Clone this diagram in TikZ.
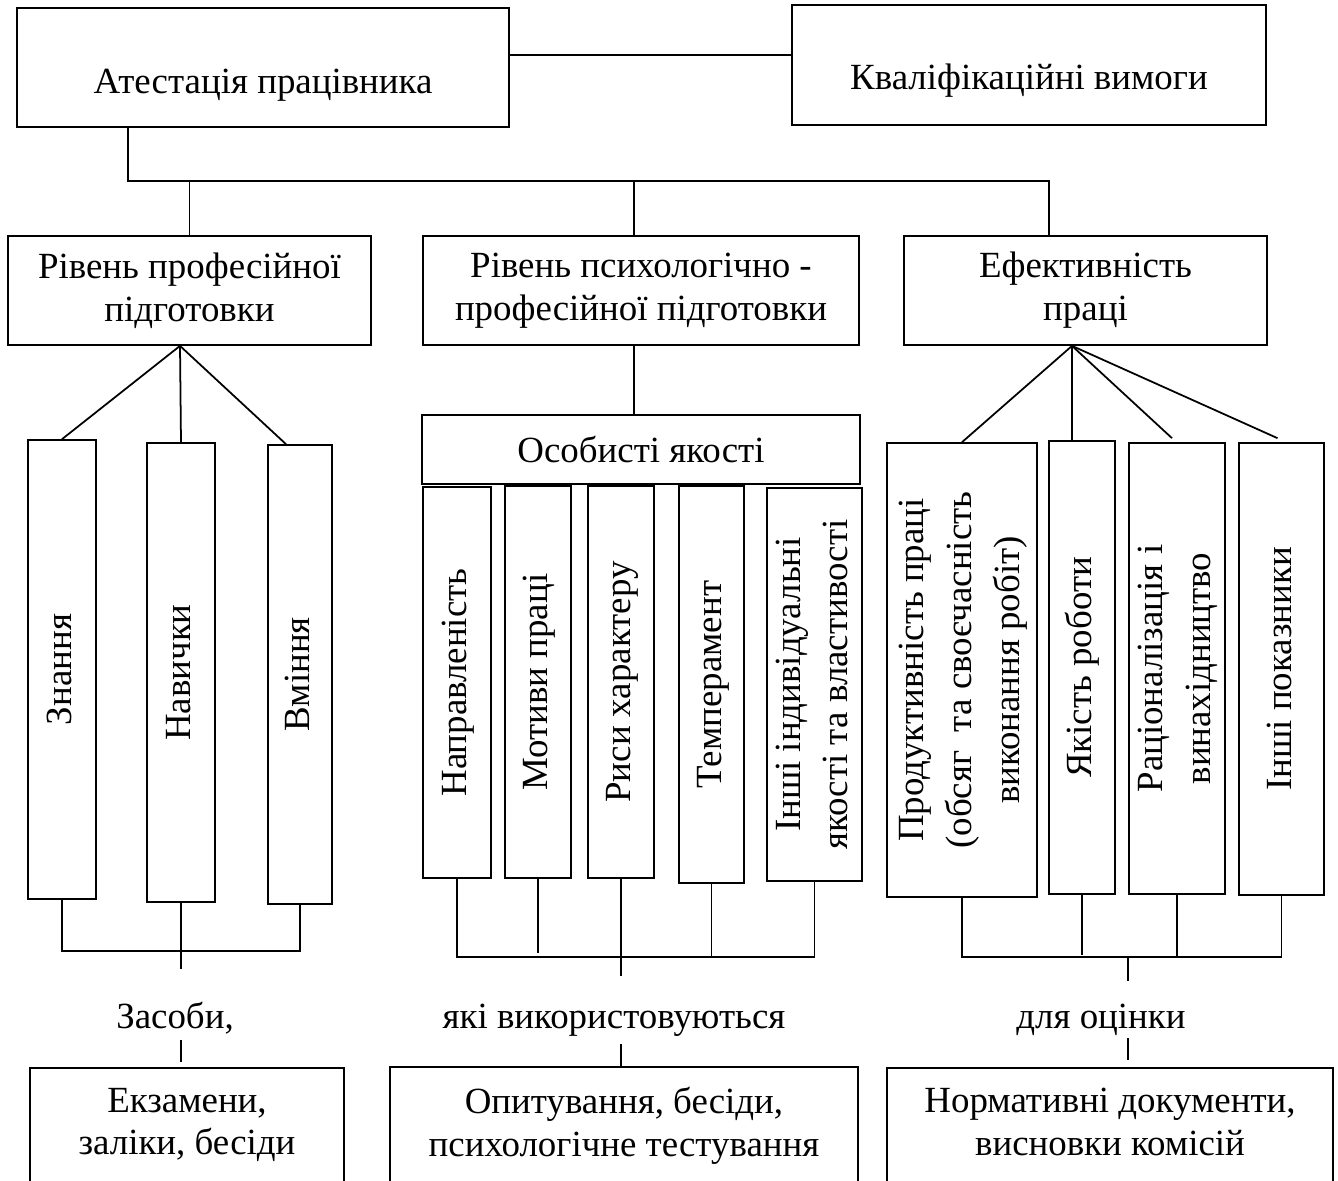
\documentclass[tikz,border=0pt]{standalone}
\usepackage{fontspec}
\setmainfont{Liberation Serif}
\usepackage{graphicx}
\usepackage{tikz}
\usetikzlibrary{positioning, calc}

\newcommand{\rottext}[1]{\rotatebox{90}{\def\arraystretch{1.115}\begin{tabular}{@{}c@{}}#1\end{tabular}}}

\tikzset{
  box/.style={draw, line width=1pt, inner sep=0pt, align=center},
  link/.style={line width=1pt},
  lowbox/.style={box, anchor=north, inner ysep=0.4cm, text depth=3cm},
}

\begin{document}
\begin{tikzpicture}[x=0.02cm, y=-0.02cm, font=\fontsize{21}{24.4}\selectfont]
  \useasboundingbox (0,0) rectangle (1338,1180);

  \node[box, minimum width=9.84cm, minimum height=2.38cm, text height=1.04cm, text depth=0pt] (atest) at (263,67.5) {Атестація працівника};
  \node[box, minimum width=9.48cm, minimum height=2.4cm, text height=1cm, text depth=0pt] (kval) at (1029,65) {Кваліфікаційні вимоги};

  \node[box, minimum width=7.26cm, minimum height=2.18cm] (prof) at (189.5,290.5) {Рівень професійної\\підготовки};
  \node[box, minimum width=8.72cm, minimum height=2.18cm] (psych) at (641,290.5) {Рівень психологічно -\\професійної підготовки};
  \node[box, minimum width=7.26cm, minimum height=2.18cm] (efekt) at (1085.5,290.5) {Ефективність\\праці};

  \node[box, minimum width=1.36cm, minimum height=9.18cm] (zn) at (62,669.5) {\rottext{Знання}};
  \node[box, minimum width=1.36cm, minimum height=9.18cm] (nv) at (181,672.5) {\rottext{Навички}};
  \node[box, minimum width=1.28cm, minimum height=9.18cm] (vm) at (300,674.5) {\rottext{Вміння}};

  \node[box, minimum width=8.76cm, minimum height=1.38cm] (osob) at (641,449.5) {Особисті якості};
  \node[box, minimum width=1.36cm, minimum height=7.82cm] (b1) at (457,682.5) {\rottext{Направленість}};
  \node[box, minimum width=1.32cm, minimum height=7.84cm] (b2) at (538,682) {\rottext{Мотиви праці}};
  \node[box, minimum width=1.32cm, minimum height=7.84cm] (b3) at (621,682) {\rottext{Риси характеру}};
  \node[box, minimum width=1.3cm, minimum height=7.94cm] (b4) at (711.5,684.5) {\rottext{Темперамент}};
  \node[box, minimum width=1.9cm, minimum height=7.86cm] (b5) at (814.5,684.5) {\rottext{Інші індивідуальні\\якості та властивості}};

  \node[box, minimum width=3cm, minimum height=9.08cm] (c1) at (962,670) {\rottext{Продуктивність праці\\(обсяг\ \ та своєчасність\\виконання робіт)}};
  \node[box, minimum width=1.32cm, minimum height=9.06cm] (c2) at (1082,667.5) {\rottext{Якість роботи}};
  \node[box, minimum width=1.92cm, minimum height=9.02cm] (c3) at (1177,668.5) {\rottext{Раціоналізація і\\винахідництво}};
  \node[box, minimum width=1.7cm, minimum height=9.04cm] (c4) at (1281.5,669) {\rottext{Інші показники}};

  \node[anchor=base] (zasoby) at (175,1028) {Засоби,};
  \node[anchor=base] (vykor) at (614,1028) {які використовуються};
  \node[anchor=base] (ocin) at (1101,1028) {для оцінки};

  \node[lowbox, minimum width=6.28cm] (ekz) at (187,1067) {Екзамени,\\заліки, бесіди};
  \node[lowbox, minimum width=9.36cm] (opyt) at (624,1066) {Опитування, бесіди,\\психологічне тестування};
  \node[lowbox, minimum width=8.92cm] (norm) at (1110,1067) {Нормативні документи,\\висновки комісій};

  \draw[link] (atest.east |- 0,55) -- (kval.west |- 0,55);
  \coordinate (busl) at (128,181);
  \coordinate (busr) at (1049,181);
  \draw[link] (atest.south -| busl) -- (busl) -- (busr) -- (busr |- efekt.north);
  \draw[link] (prof.north) -- (prof.north |- busl);
  \draw[link] ($(psych.north)+(-7,0)$) -- ($(psych.north |- busl)+(-7,0)$);

  \coordinate (fl) at ($(prof.south)+(-9.5,0)$);
  \draw[link] (zn.north) -- (fl) -- (nv.north);
  \draw[link] (fl) -- ($(vm.north)+(-14,0)$);
  \draw[link] ($(psych.south)+(-7,0)$) -- ($(osob.north)+(-7,0)$);
  \coordinate (fr) at ($(efekt.south)+(-13.5,0)$);
  \draw[link] (c1.north) -- (fr) -- (fr |- c2.north);
  \draw[link] (fr) -- ($(c3.north)+(-5,-4)$);
  \draw[link] (fr) -- ($(c4.north)+(-4,-4)$);

  \coordinate (ll) at (0,951);
  \draw[link] (zn.south) -- (zn.south |- ll) -- (vm.south |- ll) -- (vm.south);
  \draw[link] (nv.south) -- ($(nv.south |- ll)+(0,18)$);
  \draw[link] (ekz.north -| nv.south) ++(0,-5) -- ++(0,-22);

  \coordinate (lowbus) at (0,957);
  \draw[link] (b1.south) -- (b1.south |- lowbus) -- (b5.south |- lowbus) -- (b5.south);
  \draw[link] (b2.south) -- ($(b2.south |- lowbus)+(0,-4)$);
  \draw[link] (b3.south) -- ($(b3.south |- lowbus)+(0,19)$);
  \draw[link] (b4.south) -- (b4.south |- lowbus);
  \draw[link] (opyt.north -| b3.south) -- ++(0,-22);

  \coordinate (ro) at ($(norm.north)+(18,0)$);
  \draw[link] (c1.south) -- (c1.south |- lowbus) -- (c4.south |- lowbus) -- (c4.south);
  \draw[link] (c2.south) -- ($(c2.south |- lowbus)+(0,-2)$);
  \draw[link] (c3.south) -- (c3.south |- lowbus);
  \draw[link] (ro |- lowbus) -- ++(0,24);
  \draw[link] (ro) ++(0,-7) -- ++(0,-22);
\end{tikzpicture}
\end{document}
